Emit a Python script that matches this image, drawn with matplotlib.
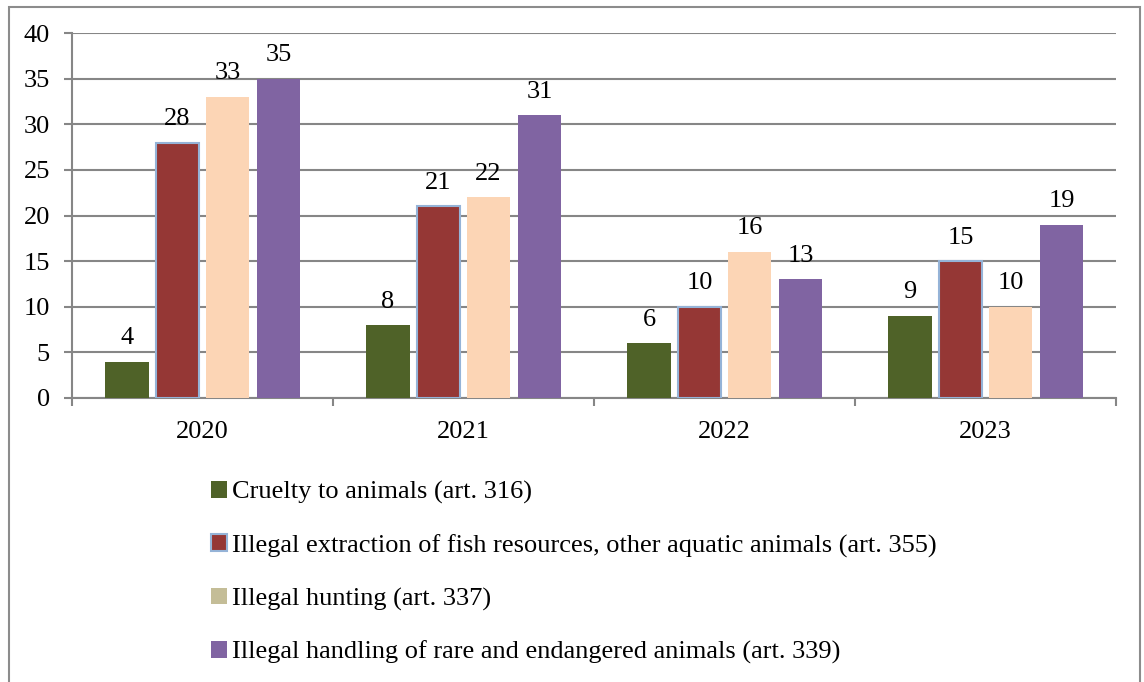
import matplotlib.pyplot as plt
import numpy as np
from matplotlib.patches import Patch, Rectangle

plt.rcParams['font.family'] = ['Liberation Serif', 'DejaVu Serif']

years = ['2020', '2021', '2022', '2023']
cruelty = [4, 8, 6, 9]
fish = [28, 21, 10, 15]
hunting = [33, 22, 16, 10]
rare = [35, 31, 13, 19]

labels = ['Cruelty to animals (art. 316)',
          'Illegal extraction of fish resources, other aquatic animals (art. 355)',
          'Illegal hunting (art. 337)',
          'Illegal handling of rare and endangered animals (art. 339)']
bar_colors = ['#4F6228', '#953735', '#FCD5B5', '#8064A2']
legend_colors = ['#4F6228', '#953735', '#C4BD97', '#8064A2']

fig = plt.figure(figsize=(11.44, 6.82), dpi=100)
ax = fig.add_axes([72 / 1144, 1 - 398 / 682, 1044 / 1144, 365 / 682])

grid_c = '#868686'
fs = 19
x = np.arange(len(years)) + 0.5
w = 0.168
offsets = [-0.289, -0.096, 0.096, 0.291]
series = [cruelty, fish, hunting, rare]

for i, vals in enumerate(series):
    edge = '#95B3D7' if i == 1 else 'none'
    bars = ax.bar(x + offsets[i], vals, w, color=bar_colors[i],
                  edgecolor=edge, linewidth=1.5, zorder=3)
    for b, v in zip(bars, vals):
        ax.annotate(str(v), (b.get_x() + b.get_width() / 2, v),
                    xytext=(0, 9), textcoords='offset points',
                    ha='center', va='bottom', fontsize=fs)

ax.set_xlim(0, 4)
ax.set_ylim(0, 40)
ax.set_yticks(range(0, 41, 5))
ax.yaxis.grid(True, color=grid_c, linewidth=1.5, zorder=0)
ax.set_axisbelow(True)

ax.set_xticks(range(0, 5))
ax.set_xticklabels([])
ax.set_xticks(x, minor=True)
ax.set_xticklabels(years, minor=True)
ax.tick_params(axis='x', which='major', length=6, width=1.5, color=grid_c, direction='out')
ax.tick_params(axis='x', which='minor', length=0, pad=16.5, labelsize=fs)
ax.tick_params(axis='y', length=6, width=1.5, color=grid_c, pad=10, labelsize=fs)

for s in ['top', 'right']:
    ax.spines[s].set_visible(False)
for s in ['left', 'bottom']:
    ax.spines[s].set_color(grid_c)
    ax.spines[s].set_linewidth(1.5)

handles = [Patch(facecolor=c, edgecolor=('#95B3D7' if i == 1 else 'none'), linewidth=1.5)
           for i, c in enumerate(legend_colors)]
fig.legend(handles, labels, loc='upper left',
           bbox_to_anchor=(211 / 1144, 1 - 481 / 682),
           frameon=False, fontsize=fs, handlelength=0.6, handleheight=0.6,
           handletextpad=0.2, labelspacing=1.14, borderpad=0, borderaxespad=0)

fig.patches.append(Rectangle((9 / 1144, -0.05), 1131 / 1144, 1.05 - 7 / 682,
                             transform=fig.transFigure, fill=False,
                             edgecolor='#8C8C8C', linewidth=1.5))

fig.savefig('out.png', dpi=100)
